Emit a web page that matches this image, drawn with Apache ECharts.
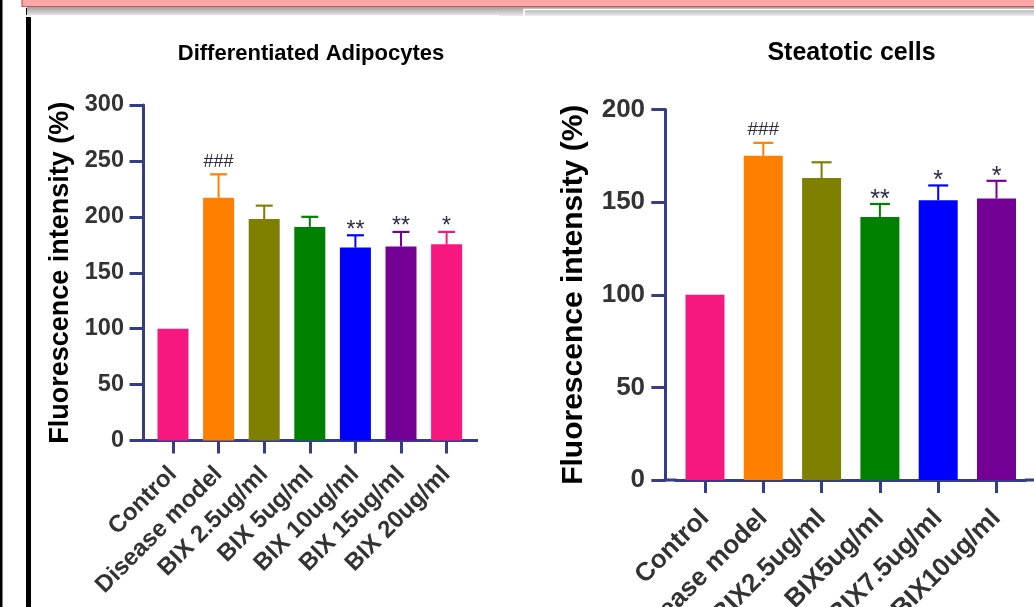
<!DOCTYPE html>
<html>
<head>
<meta charset="utf-8">
<script src="https://cdn.jsdelivr.net/npm/echarts@6/dist/echarts.min.js"></script>
<style>
  html, body { margin: 0; padding: 0; background: #fff; }
  #chart { width: 1034px; height: 607px; }
</style>
</head>
<body>
<div id="chart"></div>
<script>
// Differentiated adipocytes panel
const adipoCategories = ['Control', 'Disease model', 'BIX 2.5ug/ml', 'BIX 5ug/ml', 'BIX 10ug/ml', 'BIX 15ug/ml', 'BIX 20ug/ml'];
const adipoValues = [100, 217, 198, 191, 172.5, 173.5, 175.5];
const adipoErrors = [0, 21, 12, 9, 11, 13, 11];
const adipoMarks = ['', '###', '', '', '**', '**', '*'];
const adipoTicks = [0, 50, 100, 150, 200, 250, 300];

// Steatotic cells panel
const steatoCategories = ['Control', 'Disease model', 'BIX2.5ug/ml', 'BIX5ug/ml', 'BIX7.5ug/ml', 'BIX10ug/ml'];
const steatoValues = [100, 175, 163, 142, 151, 152];
const steatoErrors = [0, 7, 8.5, 7, 8, 9.5];
const steatoMarks = ['', '###', '', '**', '*', '*'];
const steatoTicks = [0, 50, 100, 150, 200];

const yName = 'Fluorescence intensity (%)';

const adipoColors = ['#f7187f', '#ff8000', '#808000', '#008000', '#0000ff', '#740096', '#f7187f'];
const steatoColors = ['#f7187f', '#ff8000', '#808000', '#008000', '#0000ff', '#740096'];

const AXIS = '#363d87';
const FONT = '"Liberation Sans", Arial, Helvetica, sans-serif';

const panels = [
  {
    categories: adipoCategories, values: adipoValues, errors: adipoErrors, marks: adipoMarks,
    ticks: adipoTicks, colors: adipoColors,
    grid: { left: 150.2, top: 105, width: 319.2, height: 335.5 },
    yOffset: 6.7, barWidth: 31, capHalf: 8.5,
    tickFont: 23.5, catFont: 24, nameFont: 27, nameGap: 69.5, labelMargin: 19.5, catMargin: 30,
    hashLift: 12, starLift: 5, hashFont: 18, starFont: 23
  },
  {
    categories: steatoCategories, values: steatoValues, errors: steatoErrors, marks: steatoMarks,
    ticks: steatoTicks, colors: steatoColors,
    grid: { left: 675.85, top: 109.5, width: 349.8, height: 370.5 },
    yOffset: 10.5, barWidth: 39, capHalf: 10,
    tickFont: 26, catFont: 26, nameFont: 30, nameGap: 77, labelMargin: 20.3, catMargin: 34,
    hashLift: 13.5, starLift: 4, hashFont: 19, starFont: 25
  }
];

const grids = [], xAxes = [], yAxes = [], series = [];

panels.forEach((p, k) => {
  grids.push(Object.assign({ outerBoundsMode: 'none', containLabel: false }, p.grid));
  const tMin = p.ticks[0], tMax = p.ticks[p.ticks.length - 1];
  xAxes.push({
    type: 'category', gridIndex: k, data: p.categories,
    axisLine: { show: true, lineStyle: { color: AXIS, width: 3 } },
    axisTick: { show: true, alignWithLabel: true, length: 13, lineStyle: { color: AXIS, width: 3 } },
    axisLabel: {
      interval: 0, rotate: 45, margin: p.catMargin, hideOverlap: false,
      fontSize: p.catFont, fontWeight: 'bold', color: '#333', fontFamily: FONT
    },
    splitLine: { show: false }
  });
  yAxes.push({
    type: 'value', gridIndex: k, min: tMin, max: tMax, interval: p.ticks[1] - p.ticks[0],
    offset: p.yOffset,
    name: yName, nameLocation: 'middle', nameRotate: 90, nameGap: p.nameGap,
    nameTextStyle: { fontSize: p.nameFont, fontWeight: 'bold', color: '#000', fontFamily: FONT },
    axisLine: { show: true, lineStyle: { color: AXIS, width: 3 } },
    axisTick: { show: true, length: 14, lineStyle: { color: AXIS, width: 3 } },
    axisLabel: { margin: p.labelMargin, fontSize: p.tickFont, fontWeight: 'bold', color: '#333', fontFamily: FONT },
    splitLine: { show: false }
  });
  series.push({
    type: 'bar', xAxisIndex: k, yAxisIndex: k, barWidth: p.barWidth,
    data: p.values.map((v, i) => ({ value: v, itemStyle: { color: p.colors[i] } })),
    silent: true
  });
  series.push({
    type: 'custom', xAxisIndex: k, yAxisIndex: k, z: 5, silent: true,
    data: p.values.map((v, i) => [i, v, p.errors[i]]),
    renderItem: function (params, api) {
      const i = api.value(0), v = api.value(1), e = api.value(2);
      const base = api.coord([i, v]);
      const top = api.coord([i, v + e]);
      const col = p.colors[i];
      const children = [];
      if (e > 0) {
        children.push({ type: 'line', shape: { x1: top[0], y1: base[1], x2: top[0], y2: top[1] },
          style: { stroke: col, lineWidth: 2 } });
        children.push({ type: 'line', shape: { x1: top[0] - p.capHalf, y1: top[1], x2: top[0] + p.capHalf, y2: top[1] },
          style: { stroke: col, lineWidth: 2.2 } });
      }
      const m = p.marks[params.dataIndex];
      if (m) {
        const isHash = m.indexOf('#') >= 0;
        children.push({
          type: 'text', x: top[0], y: top[1] - (isHash ? p.hashLift : p.starLift),
          style: {
            text: m, fill: '#2b2b45', align: 'center', verticalAlign: 'middle',
            fontSize: isHash ? p.hashFont : p.starFont, fontFamily: FONT, fontWeight: 'normal'
          }
        });
      }
      return { type: 'group', children: children };
    }
  });
});

// frame decorations, titles and axis-line extensions
const graphic = [
  { type: 'rect', shape: { x: 0, y: 0, width: 2.5, height: 607 }, style: { fill: '#000' }, z: 0 },
  { type: 'rect', shape: { x: 26, y: 8, width: 5, height: 7 }, style: { fill: '#000' }, z: 0 },
  { type: 'rect', shape: { x: 26, y: 17, width: 5, height: 590 }, style: { fill: '#000' }, z: 0 },
  { type: 'rect', shape: { x: 27, y: 6.5, width: 1010, height: 9.5 },
    style: { fill: new echarts.graphic.LinearGradient(0, 0, 0, 1, [
      { offset: 0, color: '#9a9a9a' }, { offset: 1, color: '#ececec' }]) }, z: 0 },
  { type: 'rect', shape: { x: 22, y: -2, width: 1016, height: 8.5 },
    style: { fill: '#ffa6a6', stroke: '#c4585a', lineWidth: 1.2 }, z: 1 },
  { type: 'rect', shape: { x: 31, y: 15, width: 468, height: 2 }, style: { fill: '#fff' }, z: 1 },
  { type: 'polyline', shape: { points: [[524, 16], [524, 9.5], [1036, 9.5]] },
    style: { stroke: '#fff', lineWidth: 1.5, fill: null }, z: 1 },
  { type: 'text', x: 311, y: 54.4, z: 10,
    style: { text: 'Differentiated Adipocytes', fill: '#000', fontSize: 22, fontWeight: 'bold',
      fontFamily: FONT, align: 'center', verticalAlign: 'middle' } },
  { type: 'text', x: 851.5, y: 53.4, z: 10,
    style: { text: 'Steatotic cells', fill: '#000', fontSize: 25, fontWeight: 'bold',
      fontFamily: FONT, align: 'center', verticalAlign: 'middle' } },
  { type: 'line', shape: { x1: 142, y1: 440.5, x2: 151, y2: 440.5 }, style: { stroke: AXIS, lineWidth: 3 }, z: 10 },
  { type: 'line', shape: { x1: 469, y1: 440.5, x2: 478, y2: 440.5 }, style: { stroke: AXIS, lineWidth: 3 }, z: 10 },
  { type: 'line', shape: { x1: 663.8, y1: 480, x2: 676.5, y2: 480 }, style: { stroke: AXIS, lineWidth: 3 }, z: 10 },
  { type: 'line', shape: { x1: 1025, y1: 480, x2: 1036, y2: 480 }, style: { stroke: AXIS, lineWidth: 3 }, z: 10 }
];

const chart = echarts.init(document.getElementById('chart'), null, { renderer: 'canvas' });
chart.setOption({
  backgroundColor: '#fff',
  animation: false,
  grid: grids,
  xAxis: xAxes,
  yAxis: yAxes,
  series: series,
  graphic: graphic
});
</script>
</body>
</html>
